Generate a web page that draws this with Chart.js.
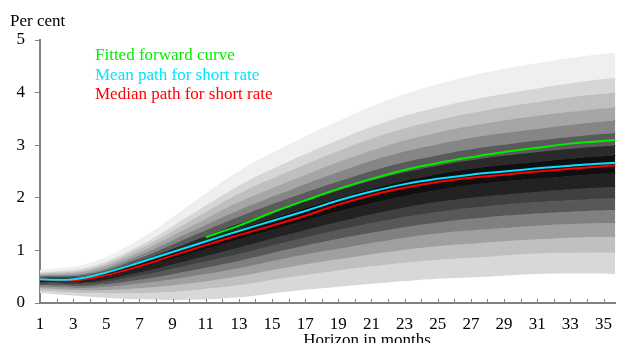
<!DOCTYPE html>
<html>
<head>
<meta charset="utf-8">
<script src="https://cdn.jsdelivr.net/npm/chart.js@4/dist/chart.umd.min.js"></script>
<style>
  html, body { margin: 0; padding: 0; background: #fff; overflow: hidden; }
  #wrap { width: 623px; height: 343px; position: relative; }
</style>
</head>
<body>
<div id="wrap"><canvas id="c" width="623" height="343"></canvas></div>
<script>
// Horizon (months) for the central paths
const pathMonths = [1, 3, 5, 7, 9, 11, 13, 15, 17, 19, 21, 23, 25, 27, 29, 31, 33, 35, 36];
const medianPath = [0.45, 0.43, 0.53, 0.70, 0.90, 1.10, 1.29, 1.47, 1.66, 1.87, 2.05, 2.19, 2.30, 2.38, 2.44, 2.50, 2.55, 2.60, 2.62];
const meanPath   = [0.45, 0.45, 0.58, 0.77, 0.97, 1.17, 1.37, 1.56, 1.75, 1.95, 2.12, 2.26, 2.36, 2.44, 2.50, 2.56, 2.61, 2.65, 2.67];

// Fitted forward curve starts at month 11
const forwardMonths = [11, 13, 15, 17, 19, 21, 23, 25, 27, 29, 31, 33, 35, 36];
const forwardCurve  = [1.25, 1.47, 1.72, 1.95, 2.17, 2.36, 2.53, 2.66, 2.77, 2.87, 2.95, 3.03, 3.08, 3.11];

// Fan bands: quantile edges, lowest (q1) to highest (q16)
const bandMonths = [1, 4, 7, 10, 13, 16, 19, 22, 25, 28, 31, 34, 36];
const q1  = [0.19, 0.12, 0.07, 0.06, 0.11, 0.22, 0.31, 0.39, 0.46, 0.50, 0.55, 0.56, 0.55];
const q2  = [0.24, 0.19, 0.19, 0.24, 0.34, 0.49, 0.62, 0.73, 0.82, 0.88, 0.94, 0.96, 0.96];
const q3  = [0.28, 0.24, 0.28, 0.37, 0.51, 0.68, 0.83, 0.97, 1.08, 1.15, 1.21, 1.25, 1.25];
const q4  = [0.31, 0.29, 0.37, 0.50, 0.66, 0.86, 1.03, 1.19, 1.32, 1.40, 1.47, 1.51, 1.52];
const q5  = [0.34, 0.33, 0.44, 0.61, 0.80, 1.02, 1.22, 1.39, 1.53, 1.63, 1.70, 1.75, 1.77];
const q6  = [0.37, 0.37, 0.52, 0.72, 0.93, 1.17, 1.39, 1.58, 1.73, 1.84, 1.92, 1.97, 2.00];
const q7  = [0.40, 0.40, 0.58, 0.81, 1.05, 1.30, 1.54, 1.75, 1.92, 2.03, 2.11, 2.18, 2.21];
const q8  = [0.43, 0.44, 0.67, 0.93, 1.21, 1.48, 1.74, 1.97, 2.15, 2.28, 2.36, 2.44, 2.47];
const q9  = [0.47, 0.50, 0.75, 1.08, 1.40, 1.70, 1.99, 2.25, 2.45, 2.59, 2.68, 2.77, 2.81];
const q10 = [0.48, 0.52, 0.80, 1.15, 1.51, 1.83, 2.14, 2.41, 2.61, 2.76, 2.87, 2.96, 3.00];
const q11 = [0.50, 0.55, 0.85, 1.25, 1.64, 1.99, 2.31, 2.60, 2.81, 2.97, 3.09, 3.19, 3.24];
const q12 = [0.52, 0.58, 0.91, 1.34, 1.77, 2.14, 2.49, 2.80, 3.02, 3.19, 3.31, 3.42, 3.48];
const q13 = [0.54, 0.62, 0.97, 1.44, 1.92, 2.31, 2.68, 3.00, 3.24, 3.42, 3.56, 3.67, 3.73];
const q14 = [0.56, 0.65, 1.03, 1.55, 2.08, 2.50, 2.89, 3.23, 3.48, 3.67, 3.82, 3.95, 4.01];
const q15 = [0.58, 0.69, 1.09, 1.66, 2.23, 2.69, 3.10, 3.46, 3.72, 3.92, 4.08, 4.22, 4.29];
const q16 = [0.62, 0.75, 1.20, 1.85, 2.50, 3.00, 3.45, 3.85, 4.15, 4.38, 4.55, 4.69, 4.76];
const bandEdges = [q1, q2, q3, q4, q5, q6, q7, q8, q9, q10, q11, q12, q13, q14, q15, q16];

// Shade of the band lying just below each edge (from q2 upward)
const bandShades = ['#d8d8d8', '#c0c0c0', '#a0a0a0', '#808080', '#585858', '#404040', '#222222',
                    '#0f0f0f',
                    '#2a2a2a', '#5a5a5a', '#868686', '#a6a6a6', '#bfbfbf', '#d6d6d6', '#efefef'];

const yTicks = [0, 1, 2, 3, 4, 5];
const legendItems = [
  { text: 'Fitted forward curve', color: '#00ee00' },
  { text: 'Mean path for short rate', color: '#00e5ff' },
  { text: 'Median path for short rate', color: '#ff0000' }
];
const yTitle = 'Per cent';
const xTitle = 'Horizon in months';

const FONT = '"Liberation Serif", "Times New Roman", serif';
const AXIS_GREY = '#808080';

function pts(xs, ys) { return xs.map((x, i) => ({ x: x, y: ys[i] })); }

const datasets = [];
// Central paths on top
datasets.push({ data: pts(pathMonths, meanPath), borderColor: '#00e5ff', borderWidth: 2, fill: false, order: 0 });
datasets.push({ data: pts(pathMonths, medianPath), borderColor: '#ff0000', borderWidth: 2, fill: false, order: 1 });
datasets.push({ data: pts(forwardMonths, forwardCurve), borderColor: '#00ee00', borderWidth: 2, fill: false, order: 2 });
bandEdges.forEach((edge, i) => {
  const shade = i === 0 ? bandShades[0] : bandShades[i - 1];
  datasets.push({
    data: pts(bandMonths, edge),
    borderColor: shade,
    borderWidth: i === 0 ? 0 : 1,
    backgroundColor: shade,
    fill: i === 0 ? false : '-1',
    order: 100 - i
  });
});

// Text labels, legend and inward x tick marks
const decorations = {
  id: 'decorations',
  afterDraw(chart) {
    const ctx = chart.ctx;
    const xs = chart.scales.x;
    const area = chart.chartArea;
    ctx.save();
    // inward month ticks
    ctx.strokeStyle = AXIS_GREY;
    ctx.lineWidth = 1;
    for (let m = 2; m <= 35; m++) {
      const px = Math.round(xs.getPixelForValue(m)) + 0.5;
      ctx.beginPath();
      ctx.moveTo(px, area.bottom);
      ctx.lineTo(px, area.bottom - 4);
      ctx.stroke();
    }
    ctx.font = '17px ' + FONT;
    ctx.textBaseline = 'alphabetic';
    ctx.textAlign = 'left';
    ctx.fillStyle = '#000';
    ctx.fillText(yTitle, 10, 26);
    legendItems.forEach((it, i) => {
      ctx.fillStyle = it.color;
      ctx.fillText(it.text, 95, 60 + i * 19.5);
    });
    ctx.fillStyle = '#000';
    ctx.textAlign = 'center';
    ctx.fillText(xTitle, 367, 345);
    ctx.restore();
  }
};

new Chart(document.getElementById('c'), {
  type: 'line',
  data: { datasets: datasets },
  plugins: [decorations],
  options: {
    responsive: false,
    animation: false,
    devicePixelRatio: 1,
    layout: { padding: { top: 40, right: 0, left: 0, bottom: 0 } },
    elements: {
      point: { radius: 0, hoverRadius: 0 },
      line: { tension: 0.4 }
    },
    plugins: {
      legend: { display: false },
      tooltip: { enabled: false },
      filler: { propagate: false }
    },
    events: [],
    scales: {
      x: {
        type: 'linear',
        min: 1,
        max: 35.71,
        afterFit: s => { s.height = 40; },
        border: { display: true, color: AXIS_GREY, width: 2 },
        grid: { display: false, drawTicks: false },
        ticks: {
          stepSize: 1,
          includeBounds: false,
          autoSkip: false,
          maxRotation: 0,
          padding: 11,
          color: '#000',
          font: { family: FONT, size: 17 },
          callback: v => (Number.isInteger(v) && v % 2 === 1) ? String(v) : ''
        }
      },
      y: {
        type: 'linear',
        min: 0,
        max: 5,
        afterFit: s => { s.width = 40; },
        afterBuildTicks: s => { s.ticks = yTicks.map(v => ({ value: v })); },
        border: { display: true, color: AXIS_GREY, width: 2 },
        grid: { display: true, drawOnChartArea: false, drawTicks: true, tickLength: 5, color: AXIS_GREY, tickWidth: 1 },
        ticks: {
          padding: 10,
          color: '#000',
          font: { family: FONT, size: 17 },
          callback: v => String(v)
        }
      }
    }
  }
});
</script>
</body>
</html>
